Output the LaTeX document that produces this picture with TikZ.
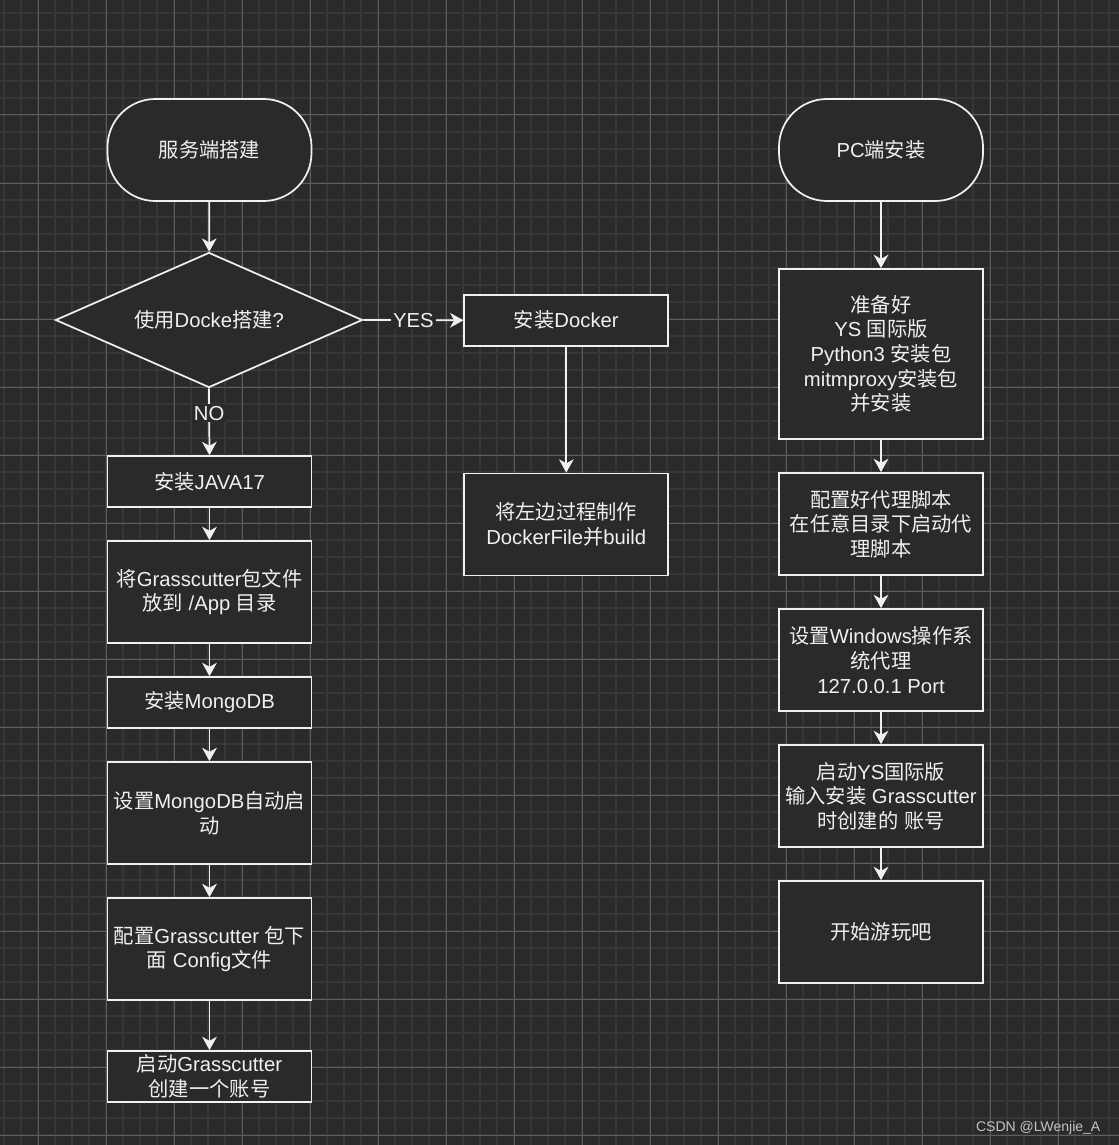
\documentclass[tikz,border=0pt]{standalone}
\usepackage{fontspec}
\setmainfont{Liberation Sans}
\newfontfamily\cjk{Noto Sans CJK SC}
\usetikzlibrary{shapes.geometric,arrows.meta}
\definecolor{bgc}{HTML}{2A2A2A}
\definecolor{minorc}{HTML}{373737}
\definecolor{majorc}{HTML}{5E5E5E}
\definecolor{fgc}{HTML}{F0F0F0}
\definecolor{wmc}{HTML}{C4C4C4}
\newcommand\zh[1]{{\cjk #1}}
\begin{document}
\begin{tikzpicture}[x=0.75pt,y=-0.75pt,
  every node/.style={text=fgc,font=\fontsize{15.2}{18.5}\selectfont},
  boxbase/.style={draw=fgc,fill=bgc,line width=1.3pt,inner sep=0pt,align=center,minimum width=153pt},
  sbox/.style={boxbase,minimum height=38.25pt},
  mbox/.style={boxbase,minimum height=76.5pt},
  lbox/.style={boxbase,minimum height=127.5pt},
  term/.style={boxbase,minimum height=76.5pt,rounded corners=36pt},
  decide/.style={diamond,draw=fgc,fill=bgc,line width=1.3pt,inner sep=0pt,aspect=2.27,minimum width=230.25pt,minimum height=101.25pt},
  flow/.style={draw=fgc,line width=1.3pt,-{Stealth[length=10pt,width=11pt,inset=3pt]}},
  elabel/.style={fill=bgc,inner sep=1.5pt}]
% background and grid
\fill[bgc] (0,0) rectangle (1119,1145);
\useasboundingbox (0,0) rectangle (1119,1145);
\foreach \i in {0,...,65} {\draw[minorc,line width=1.2pt] ({4+17*\i},0) -- ({4+17*\i},1145);}
\foreach \i in {0,...,67} {\draw[minorc,line width=1.2pt] (0,{13+17*\i}) -- (1119,{13+17*\i});}
\foreach \i in {0,...,15} {\draw[majorc,line width=0.75pt] ({38+68*\i},0) -- ({38+68*\i},1145);}
\foreach \i in {0,...,16} {\draw[majorc,line width=0.75pt] (0,{47+68*\i}) -- (1119,{47+68*\i});}

% left column
\node[term] (s1) at (209.5,150) {\zh{服务端搭建}};
\node[decide] (d) at (209,320) {\zh{使用}Docke\zh{搭建}?};
\node[sbox] (j) at (209.5,481.5) {\zh{安装}JAVA17};
\node[mbox] (g) at (209.5,592) {\zh{将}Grasscutter\zh{包文件}\\\zh{放到} /App \zh{目录}};
\node[sbox] (m) at (209.5,702.5) {\zh{安装}MongoDB};
\node[mbox] (sm) at (209.5,813) {\zh{设置}MongoDB\zh{自动启}\\\zh{动}};
\node[mbox] (cg) at (209.5,949) {\zh{配置}Grasscutter \zh{包下}\\\zh{面} Config\zh{文件}};
\node[sbox] (st) at (209.5,1076.5) {\zh{启动}Grasscutter\\\zh{创建一个账号}};

% middle column
\node[sbox] (dk) at (566.3,320.3) {\zh{安装}Docker};
\node[mbox] (db) at (566.3,524.5) {\zh{将左边过程制作}\\DockerFile\zh{并}build};

% right column
\node[term] (s2) at (881,150) {PC\zh{端安装}};
\node[lbox] (p) at (881,354) {\zh{准备好}\\YS \zh{国际版}\\Python3 \zh{安装包}\\mitmproxy\zh{安装包}\\\zh{并安装}};
\node[mbox] (c) at (881,524) {\zh{配置好代理脚本}\\\zh{在任意目录下启动代}\\\zh{理脚本}};
\node[mbox] (w) at (881,660) {\zh{设置}Windows\zh{操作系}\\\zh{统代理}\\127.0.0.1 Port};
\node[mbox] (ys) at (881,796) {\zh{启动}YS\zh{国际版}\\\zh{输入安装} Grasscutter\\\zh{时创建的} \zh{账号}};
\node[mbox] (go) at (881,932) {\zh{开始游玩吧}};

% connectors
\draw[flow] (s1) -- (d);
\draw[flow] (d.east) -- node[elabel] {YES} (dk.west);
\draw[flow] (d.south) -- node[elabel,pos=0.37] {NO} (j.north);
\draw[flow] (j) -- (g);
\draw[flow] (g) -- (m);
\draw[flow] (m) -- (sm);
\draw[flow] (sm) -- (cg);
\draw[flow] (cg) -- (st);
\draw[flow] (dk) -- (db);
\draw[flow] (s2) -- (p);
\draw[flow] (p) -- (c);
\draw[flow] (c) -- (w);
\draw[flow] (w) -- (ys);
\draw[flow] (ys) -- (go);

% watermark
\node[text=wmc,font=\fontsize{10.5}{12}\selectfont,anchor=base east] (wm) at (1105,1131.5) {CSDN @LWenjie\_A};
\end{tikzpicture}
\end{document}
